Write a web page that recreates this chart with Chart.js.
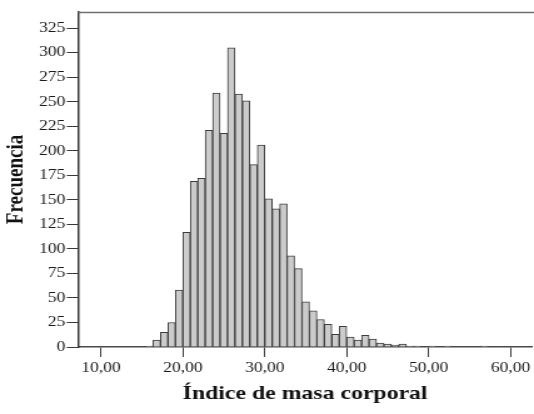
<!DOCTYPE html>
<html>
<head>
<meta charset="utf-8">
<script src="https://cdn.jsdelivr.net/npm/chart.js@4/dist/chart.umd.min.js"></script>
<style>
  html, body { margin: 0; padding: 0; background: #ffffff; overflow: hidden; }
  #wrap { position: absolute; left: 0; top: 0; width: 427px; height: 414px;
          transform: scaleX(1.2506); transform-origin: 0 0; }
</style>
</head>
<body>
<div id="wrap"><canvas id="c"></canvas></div>
<script>
// Bin centres of the histogram (Índice de masa corporal)
const binCenters = [15.909, 16.818, 17.727, 18.636, 19.545, 20.455, 21.364, 22.273, 23.182, 24.091,
  25.000, 25.909, 26.818, 27.727, 28.636, 29.545, 30.455, 31.364, 32.273, 33.182,
  34.091, 35.000, 35.909, 36.818, 37.727, 38.636, 39.545, 40.455, 41.364, 42.273,
  43.182, 44.091, 45.000, 45.909, 46.818, 47.727, 48.636, 49.545, 50.455, 51.364,
  52.273, 53.182, 54.091, 55.000, 55.909, 56.818];
// Frecuencia per bin
const frequency = [1, 7, 15, 25, 58, 117, 169, 172, 221, 259,
  218, 305, 258, 251, 186, 206, 151, 141, 146, 93,
  80, 46, 37, 28, 23, 13, 21, 10, 7, 12,
  8, 4, 3, 2, 3, 1, 1, 0, 1, 0,
  1, 0, 0, 0, 0, 1];
const xTicks = [10, 20, 30, 40, 50, 60];
const yTicks = [0, 25, 50, 75, 100, 125, 150, 175, 200, 225, 250, 275, 300, 325];
const xTitle = 'Índice de masa corporal';
const yTitle = 'Frecuencia';

const points = binCenters.map((x, i) => ({ x: x, y: frequency[i] }));
const FONT = "'Liberation Serif', 'Times New Roman', serif";

const topFrame = {
  id: 'topFrame',
  afterDraw(chart) {
    const { ctx, chartArea } = chart;
    ctx.save();
    ctx.strokeStyle = '#6f6f6f';
    ctx.lineWidth = 1.5;
    ctx.beginPath();
    ctx.moveTo(chartArea.left, chartArea.top + 0.5);
    ctx.lineTo(chartArea.right + 2, chartArea.top + 0.5);
    ctx.stroke();
    ctx.restore();
  }
};

new Chart(document.getElementById('c'), {
  type: 'bar',
  data: {
    datasets: [{
      data: points,
      backgroundColor: '#cbcbcb',
      borderColor: '#3c3c3c',
      borderWidth: 1,
      barPercentage: 1,
      categoryPercentage: 1
    }]
  },
  options: {
    responsive: true,
    maintainAspectRatio: false,
    animation: false,
    layout: { padding: { top: 12, left: 0, right: 0, bottom: 0 } },
    plugins: { legend: { display: false }, tooltip: { enabled: false } },
    scales: {
      x: {
        type: 'linear',
        offset: false,
        min: 7.204,
        max: 62.64,
        afterBuildTicks: (s) => { s.ticks = xTicks.map(v => ({ value: v })); },
        afterFit: (s) => { s.height = 67; },
        ticks: {
          color: '#1a1a1a',
          font: { family: FONT, size: 14 },
          padding: 3,
          maxRotation: 0,
          callback: (v) => Number(v).toFixed(2).replace('.', ',')
        },
        grid: { display: true, offset: false, drawOnChartArea: false, drawTicks: true, tickLength: 10, color: '#3a3a3a', lineWidth: 1 },
        border: { display: true, color: '#4a4a4a', width: 1.5 },
        title: {
          display: true, text: xTitle, color: '#111',
          font: { family: FONT, size: 19, weight: 'bold' },
          padding: { top: 0, bottom: 9 }
        }
      },
      y: {
        type: 'linear',
        min: 0,
        max: 341.6,
        afterBuildTicks: (s) => { s.ticks = yTicks.map(v => ({ value: v })); },
        afterFit: (s) => { s.width = 62.37; },
        ticks: {
          color: '#1a1a1a',
          font: { family: FONT, size: 14 },
          padding: 1
        },
        grid: { display: true, drawOnChartArea: false, drawTicks: true, tickLength: 9, color: '#3a3a3a', lineWidth: 1 },
        border: { display: true, color: '#333', width: 1.5 },
        title: {
          display: true, text: yTitle, color: '#111',
          font: { family: FONT, size: 19, weight: 'bold' },
          padding: { top: 2, bottom: 0 }
        }
      }
    }
  },
  plugins: [topFrame]
});
</script>
</body>
</html>
